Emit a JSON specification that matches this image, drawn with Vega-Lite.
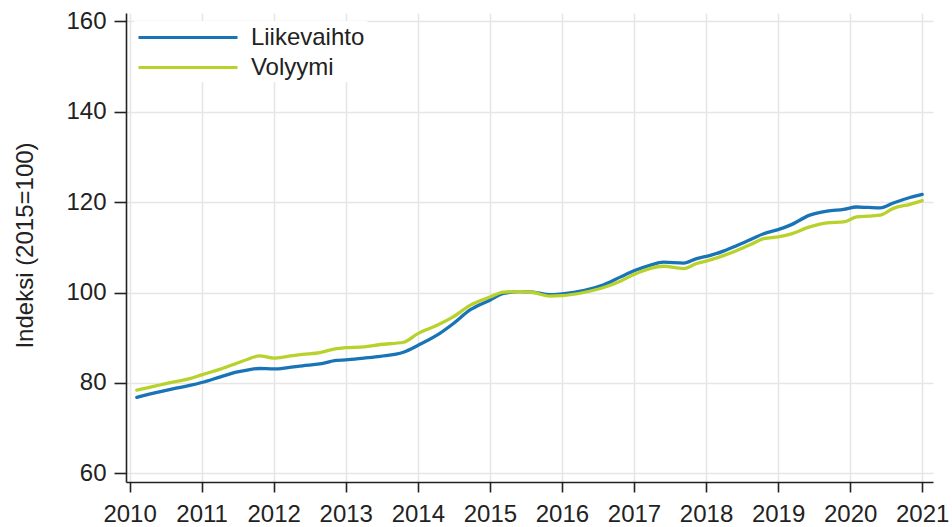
{
  "$schema": "https://vega.github.io/schema/vega-lite/v6.json",
  "width": 807,
  "height": 469,
  "autosize": {"type": "none"},
  "padding": {"left": 126, "top": 13, "right": 19, "bottom": 45},
  "background": "white",
  "config": {
    "font": "Liberation Sans",
    "view": {"stroke": null},
    "axis": {
      "labelFont": "Liberation Sans",
      "titleFont": "Liberation Sans",
      "labelFontSize": 24,
      "labelColor": "#222222",
      "titleColor": "#222222",
      "domainColor": "#222222",
      "domainWidth": 1.6,
      "tickColor": "#222222",
      "tickWidth": 1.6,
      "gridColor": "#e6e6e6",
      "gridWidth": 1.6
    },
    "legend": {
      "labelFont": "Liberation Sans"
    }
  },
  "data": {
    "values": [
      {"t": 2010.1, "sarja": "Liikevaihto", "arvo": 76.8},
      {"t": 2010.35, "sarja": "Liikevaihto", "arvo": 77.8},
      {"t": 2010.6, "sarja": "Liikevaihto", "arvo": 78.7},
      {"t": 2010.85, "sarja": "Liikevaihto", "arvo": 79.5},
      {"t": 2011.0, "sarja": "Liikevaihto", "arvo": 80.1},
      {"t": 2011.25, "sarja": "Liikevaihto", "arvo": 81.3},
      {"t": 2011.48, "sarja": "Liikevaihto", "arvo": 82.4},
      {"t": 2011.65, "sarja": "Liikevaihto", "arvo": 82.9},
      {"t": 2011.8, "sarja": "Liikevaihto", "arvo": 83.2},
      {"t": 2012.0, "sarja": "Liikevaihto", "arvo": 83.1},
      {"t": 2012.2, "sarja": "Liikevaihto", "arvo": 83.4},
      {"t": 2012.4, "sarja": "Liikevaihto", "arvo": 83.8},
      {"t": 2012.64, "sarja": "Liikevaihto", "arvo": 84.2},
      {"t": 2012.87, "sarja": "Liikevaihto", "arvo": 85.0},
      {"t": 2013.0, "sarja": "Liikevaihto", "arvo": 85.1},
      {"t": 2013.25, "sarja": "Liikevaihto", "arvo": 85.5},
      {"t": 2013.48, "sarja": "Liikevaihto", "arvo": 85.9},
      {"t": 2013.8, "sarja": "Liikevaihto", "arvo": 86.8},
      {"t": 2014.0, "sarja": "Liikevaihto", "arvo": 88.3},
      {"t": 2014.26, "sarja": "Liikevaihto", "arvo": 90.5},
      {"t": 2014.49, "sarja": "Liikevaihto", "arvo": 93.1},
      {"t": 2014.73, "sarja": "Liikevaihto", "arvo": 96.2},
      {"t": 2015.0, "sarja": "Liikevaihto", "arvo": 98.3},
      {"t": 2015.19, "sarja": "Liikevaihto", "arvo": 99.8},
      {"t": 2015.42, "sarja": "Liikevaihto", "arvo": 100.2},
      {"t": 2015.6, "sarja": "Liikevaihto", "arvo": 100.1},
      {"t": 2015.83, "sarja": "Liikevaihto", "arvo": 99.5},
      {"t": 2016.0, "sarja": "Liikevaihto", "arvo": 99.7},
      {"t": 2016.3, "sarja": "Liikevaihto", "arvo": 100.4},
      {"t": 2016.58, "sarja": "Liikevaihto", "arvo": 101.7},
      {"t": 2016.81, "sarja": "Liikevaihto", "arvo": 103.4},
      {"t": 2017.0, "sarja": "Liikevaihto", "arvo": 104.8},
      {"t": 2017.22, "sarja": "Liikevaihto", "arvo": 106.0},
      {"t": 2017.41, "sarja": "Liikevaihto", "arvo": 106.7},
      {"t": 2017.69, "sarja": "Liikevaihto", "arvo": 106.5},
      {"t": 2017.87, "sarja": "Liikevaihto", "arvo": 107.5},
      {"t": 2018.06, "sarja": "Liikevaihto", "arvo": 108.2},
      {"t": 2018.25, "sarja": "Liikevaihto", "arvo": 109.2},
      {"t": 2018.43, "sarja": "Liikevaihto", "arvo": 110.4},
      {"t": 2018.62, "sarja": "Liikevaihto", "arvo": 111.7},
      {"t": 2018.8, "sarja": "Liikevaihto", "arvo": 113.0},
      {"t": 2019.0, "sarja": "Liikevaihto", "arvo": 113.9},
      {"t": 2019.17, "sarja": "Liikevaihto", "arvo": 114.9},
      {"t": 2019.44, "sarja": "Liikevaihto", "arvo": 117.1},
      {"t": 2019.68, "sarja": "Liikevaihto", "arvo": 118.0},
      {"t": 2019.91, "sarja": "Liikevaihto", "arvo": 118.4},
      {"t": 2020.09, "sarja": "Liikevaihto", "arvo": 118.9},
      {"t": 2020.25, "sarja": "Liikevaihto", "arvo": 118.8},
      {"t": 2020.42, "sarja": "Liikevaihto", "arvo": 118.7},
      {"t": 2020.6, "sarja": "Liikevaihto", "arvo": 119.8},
      {"t": 2020.83, "sarja": "Liikevaihto", "arvo": 121.0},
      {"t": 2021.0, "sarja": "Liikevaihto", "arvo": 121.7},
      {"t": 2010.1, "sarja": "Volyymi", "arvo": 78.4},
      {"t": 2010.35, "sarja": "Volyymi", "arvo": 79.3},
      {"t": 2010.6, "sarja": "Volyymi", "arvo": 80.2},
      {"t": 2010.85, "sarja": "Volyymi", "arvo": 81.0},
      {"t": 2011.0, "sarja": "Volyymi", "arvo": 81.8},
      {"t": 2011.25, "sarja": "Volyymi", "arvo": 83.0},
      {"t": 2011.48, "sarja": "Volyymi", "arvo": 84.3},
      {"t": 2011.65, "sarja": "Volyymi", "arvo": 85.3},
      {"t": 2011.8, "sarja": "Volyymi", "arvo": 86.0},
      {"t": 2012.0, "sarja": "Volyymi", "arvo": 85.5},
      {"t": 2012.2, "sarja": "Volyymi", "arvo": 85.9},
      {"t": 2012.4, "sarja": "Volyymi", "arvo": 86.3},
      {"t": 2012.64, "sarja": "Volyymi", "arvo": 86.7},
      {"t": 2012.87, "sarja": "Volyymi", "arvo": 87.6},
      {"t": 2013.0, "sarja": "Volyymi", "arvo": 87.8},
      {"t": 2013.25, "sarja": "Volyymi", "arvo": 88.0},
      {"t": 2013.48, "sarja": "Volyymi", "arvo": 88.5},
      {"t": 2013.8, "sarja": "Volyymi", "arvo": 89.0},
      {"t": 2014.0, "sarja": "Volyymi", "arvo": 90.9},
      {"t": 2014.26, "sarja": "Volyymi", "arvo": 92.7},
      {"t": 2014.49, "sarja": "Volyymi", "arvo": 94.6},
      {"t": 2014.73, "sarja": "Volyymi", "arvo": 97.2},
      {"t": 2015.0, "sarja": "Volyymi", "arvo": 99.0},
      {"t": 2015.19, "sarja": "Volyymi", "arvo": 100.1},
      {"t": 2015.42, "sarja": "Volyymi", "arvo": 100.2},
      {"t": 2015.6, "sarja": "Volyymi", "arvo": 100.0},
      {"t": 2015.83, "sarja": "Volyymi", "arvo": 99.2},
      {"t": 2016.0, "sarja": "Volyymi", "arvo": 99.3},
      {"t": 2016.3, "sarja": "Volyymi", "arvo": 100.0},
      {"t": 2016.58, "sarja": "Volyymi", "arvo": 101.1},
      {"t": 2016.81, "sarja": "Volyymi", "arvo": 102.5},
      {"t": 2017.0, "sarja": "Volyymi", "arvo": 104.0},
      {"t": 2017.22, "sarja": "Volyymi", "arvo": 105.3},
      {"t": 2017.41, "sarja": "Volyymi", "arvo": 105.8},
      {"t": 2017.69, "sarja": "Volyymi", "arvo": 105.3},
      {"t": 2017.87, "sarja": "Volyymi", "arvo": 106.4},
      {"t": 2018.06, "sarja": "Volyymi", "arvo": 107.2},
      {"t": 2018.25, "sarja": "Volyymi", "arvo": 108.2},
      {"t": 2018.43, "sarja": "Volyymi", "arvo": 109.3},
      {"t": 2018.62, "sarja": "Volyymi", "arvo": 110.6},
      {"t": 2018.8, "sarja": "Volyymi", "arvo": 111.9},
      {"t": 2019.0, "sarja": "Volyymi", "arvo": 112.3},
      {"t": 2019.17, "sarja": "Volyymi", "arvo": 112.9},
      {"t": 2019.44, "sarja": "Volyymi", "arvo": 114.5},
      {"t": 2019.68, "sarja": "Volyymi", "arvo": 115.4},
      {"t": 2019.91, "sarja": "Volyymi", "arvo": 115.6},
      {"t": 2020.09, "sarja": "Volyymi", "arvo": 116.7},
      {"t": 2020.25, "sarja": "Volyymi", "arvo": 116.9},
      {"t": 2020.42, "sarja": "Volyymi", "arvo": 117.1},
      {"t": 2020.6, "sarja": "Volyymi", "arvo": 118.6},
      {"t": 2020.83, "sarja": "Volyymi", "arvo": 119.5},
      {"t": 2021.0, "sarja": "Volyymi", "arvo": 120.3}
    ]
  },
  "mark": {"type": "line", "strokeWidth": 3.3, "strokeJoin": "round", "strokeCap": "round", "interpolate": "monotone"},
  "encoding": {
    "x": {
      "field": "t",
      "type": "quantitative",
      "scale": {"domain": [2009.95, 2021.15], "nice": false, "zero": false},
      "axis": {
        "title": null,
        "values": [2010, 2011, 2012, 2013, 2014, 2015, 2016, 2017, 2018, 2019, 2020, 2021],
        "format": "d",
        "grid": true,
        "tickSize": 10,
        "labelPadding": 10,
        "labelFlush": false,
        "labelOverlap": false
      }
    },
    "y": {
      "field": "arvo",
      "type": "quantitative",
      "scale": {"domain": [58.1, 161.8], "nice": false, "zero": false},
      "axis": {
        "title": "Indeksi (2015=100)",
        "titleFontSize": 24,
        "titleFontWeight": "normal",
        "titleAngle": -90,
        "titleBaseline": "alphabetic",
        "titleAlign": "center",
        "titleX": -94,
        "titleY": 232,
        "values": [60, 80, 100, 120, 140, 160],
        "grid": true,
        "tickSize": 12,
        "labelPadding": 8,
        "labelFlush": false
      }
    },
    "color": {
      "field": "sarja",
      "type": "nominal",
      "scale": {"domain": ["Liikevaihto", "Volyymi"], "range": ["#1874b6", "#b8d22b"]},
      "legend": {
        "title": null,
        "orient": "none",
        "legendX": 8.4,
        "legendY": 8,
        "fillColor": "white",
        "padding": 2.5,
        "symbolType": "M-1,0H7",
        "symbolSize": 612,
        "symbolStrokeWidth": 3,
        "labelOffset": 86,
        "rowPadding": 4,
        "labelFontSize": 24,
        "labelColor": "#222222",
        "labelFont": "Liberation Sans"
      }
    }
  }
}
